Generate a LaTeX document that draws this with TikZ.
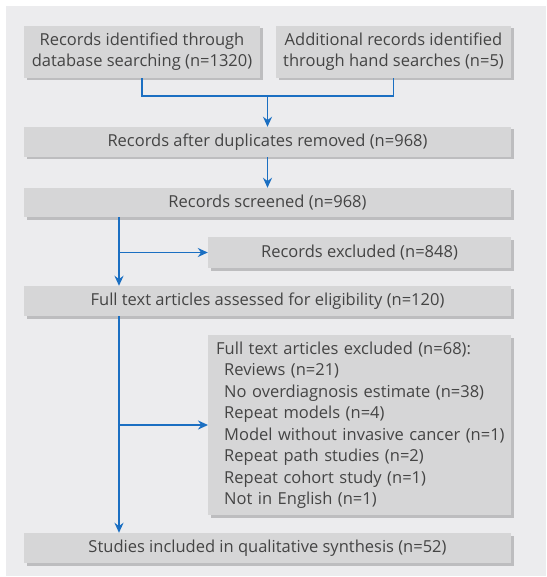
\documentclass[tikz,border=0pt]{standalone}
\usepackage{fontspec}
\setmainfont{Open Sans}
\usepackage{xcolor}
\usepackage{tikz}
\usetikzlibrary{shadows,arrows.meta}

\definecolor{bggray}{HTML}{ECECEE}
\definecolor{boxgray}{HTML}{D6D6D7}
\definecolor{shadegray}{HTML}{BDBDBF}
\definecolor{txtgray}{HTML}{444444}
\definecolor{flowblue}{HTML}{1B6FC2}

\newcommand{\exclitem}[1]{\hspace*{8pt}\mbox{#1}}

\tikzset{
  flowbox/.style={fill=boxgray, text=txtgray, inner sep=0pt, align=center,
    font=\fontsize{16.5}{20.7}\selectfont,
    drop shadow={shadow xshift=2.5pt, shadow yshift=-2.5pt, fill=shadegray, opacity=1}},
  flowline/.style={draw=flowblue, line width=1.8pt},
  flowarrow/.style={flowline, -{Stealth[length=10pt, width=9pt]}}
}

\begin{document}
\begin{tikzpicture}[x=1pt, y=-1pt]
    \fill[bggray] (6,6) rectangle (546,576);
    \useasboundingbox (0,0) rectangle (546,577);

    % identification
    \node[flowbox, minimum width=236pt, minimum height=52pt] (dbsearch) at (142,52)
        {Records identified through\\database searching (n=1320)};
    \node[flowbox, minimum width=235pt, minimum height=52pt] (handsearch) at (393.5,52)
        {Additional records identified\\through hand searches (n=5)};
    \node[flowbox, minimum width=487pt, minimum height=30pt] (dedup) at (267.5,142)
        {Records after duplicates removed (n=968)};

    % screening
    \node[flowbox, minimum width=487pt, minimum height=29pt] (screened) at (267.5,202.5)
        {Records screened (n=968)};
    \node[flowbox, minimum width=303pt, minimum height=31pt] (excluded) at (359.5,252.5)
        {Records excluded (n=848)};
    \node[flowbox, minimum width=487pt, minimum height=30pt] (fulltext) at (267.5,301)
        {Full text articles assessed for eligibility (n=120)};
    \node[flowbox, minimum width=303pt, minimum height=180pt, align=left,
        text width=287pt, inner xsep=8pt, anchor=west,
        font=\fontsize{16.5}{21.5}\selectfont] (ftexcl) at (208,425)
        {\mbox{Full text articles excluded (n=68):}\\
         \exclitem{Reviews (n=21)}\\
         \exclitem{No overdiagnosis estimate (n=38)}\\
         \exclitem{Repeat models (n=4)}\\
         \exclitem{Model without invasive cancer (n=1)}\\
         \exclitem{Repeat path studies (n=2)}\\
         \exclitem{Repeat cohort study (n=1)}\\
         \exclitem{Not in English (n=1)}};
    \node[flowbox, minimum width=487pt, minimum height=30pt] (included) at (267.5,548)
        {Studies included in qualitative synthesis (n=52)};

    % connectors
    \coordinate (join) at (267.5,96);
    \coordinate (trunk) at (119,217);
    \draw[flowline] (dbsearch.south) |- (join) -| (handsearch.south);
    \draw[flowarrow] (join) -- (dedup.north);
    \draw[flowarrow] (dedup.south) -- (screened.north);
    \draw[flowarrow] (screened.south -| trunk) -- (fulltext.north -| trunk);
    \draw[flowarrow] (excluded.west -| trunk) -- (excluded.west);
    \draw[flowarrow] (fulltext.south -| trunk) -- (included.north -| trunk);
    \draw[flowarrow] (ftexcl.west -| trunk) -- (ftexcl.west);
\end{tikzpicture}
\end{document}
